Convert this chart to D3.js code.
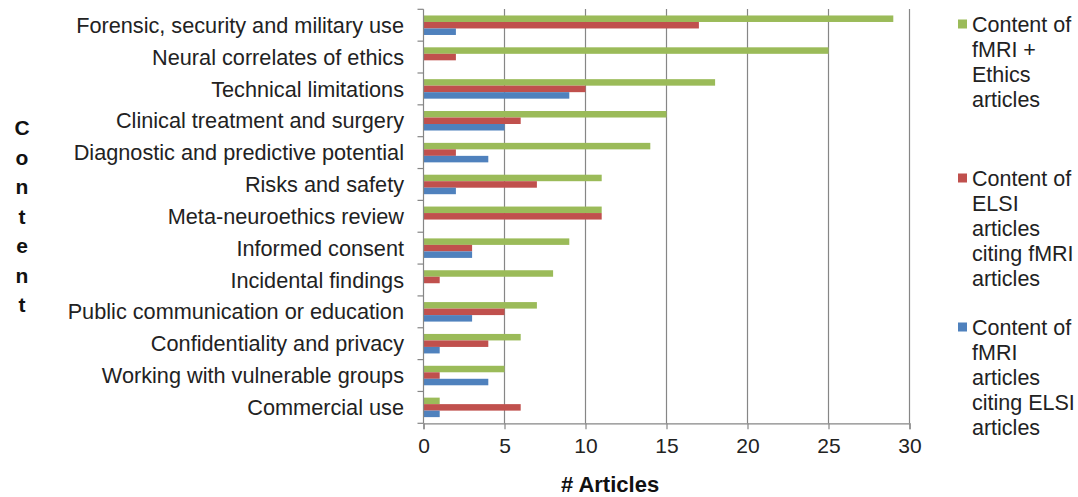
<!DOCTYPE html>
<html>
<head>
    <meta charset="utf-8">
    <title>Content of articles</title>
    <style>
        body {
            margin: 0;
            background: #fff;
            font-family: 'Liberation Sans', Arial, sans-serif;
        }
    </style>
    <script src="https://cdnjs.cloudflare.com/ajax/libs/d3/7.8.5/d3.min.js"></script>
</head>
<body>
    <div id="chart"></div>
    <script>
        const categories = [
            'Forensic, security and military use',
            'Neural correlates of ethics',
            'Technical limitations',
            'Clinical treatment and surgery',
            'Diagnostic and predictive potential',
            'Risks and safety',
            'Meta-neuroethics review',
            'Informed consent',
            'Incidental findings',
            'Public communication or education',
            'Confidentiality and privacy',
            'Working with vulnerable groups',
            'Commercial use'
        ];
        const fmriEthics = [29, 25, 18, 15, 14, 11, 11, 9, 8, 7, 6, 5, 1];
        const elsiCitingFmri = [17, 2, 10, 6, 2, 7, 11, 3, 1, 5, 4, 1, 6];
        const fmriCitingElsi = [2, 0, 9, 5, 4, 2, 0, 3, 0, 3, 1, 4, 1];
        const xTicks = [0, 5, 10, 15, 20, 25, 30];

        const seriesNames = ['green', 'red', 'blue'];
        const seriesValues = [fmriEthics, elsiCitingFmri, fmriCitingElsi];
        const colors = { green: '#9bbb59', red: '#c0504d', blue: '#4f81bd' };
        const legendLines = [
            ['Content of', 'fMRI +', 'Ethics', 'articles'],
            ['Content of', 'ELSI', 'articles', 'citing fMRI', 'articles'],
            ['Content of', 'fMRI', 'articles', 'citing ELSI', 'articles']
        ];
        const legendTops = [24, 178, 327];

        const W = 1078, H = 497;
        const svg = d3.select('#chart').append('svg')
            .attr('width', W).attr('height', H);

        const x = d3.scaleLinear().domain([0, 30]).range([423.5, 909.5]);
        const y = d3.scaleBand().domain(categories).range([9.3, 423.3]);
        const yInner = d3.scaleBand().domain(seriesNames)
            .range([0, y.bandwidth()]).paddingOuter(0.95);

        // gridlines
        svg.append('g').selectAll('line')
            .data(xTicks.slice(1))
            .join('line')
            .attr('x1', d => x(d)).attr('x2', d => x(d))
            .attr('y1', 9).attr('y2', 423.3)
            .attr('stroke', '#868686').attr('stroke-width', 1.2);

        // bars
        const rows = categories.map((c, i) => ({ c, i }));
        const groups = svg.append('g').selectAll('g')
            .data(rows)
            .join('g')
            .attr('transform', d => `translate(0,${y(d.c)})`);

        groups.selectAll('rect')
            .data(d => seriesNames.map((s, k) => ({ s, v: seriesValues[k][d.i] })))
            .join('rect')
            .attr('x', x(0))
            .attr('y', d => yInner(d.s))
            .attr('width', d => x(d.v) - x(0))
            .attr('height', yInner.bandwidth())
            .attr('fill', d => colors[d.s]);

        // bottom axis
        const xAxis = d3.axisBottom(x).tickValues(xTicks).tickSize(6).tickPadding(9);
        const gx = svg.append('g')
            .attr('transform', 'translate(0,423.3)')
            .call(xAxis);
        gx.select('.domain').attr('stroke', '#868686').attr('stroke-width', 1.2);
        gx.selectAll('.tick line').attr('stroke', '#868686').attr('stroke-width', 1.2);
        gx.selectAll('.tick text')
            .attr('fill', '#222')
            .style('font-family', "'Liberation Sans', Arial, sans-serif")
            .style('font-size', '21px');

        // left axis line with ticks at band boundaries
        const leftX = x(0);
        svg.append('line')
            .attr('x1', leftX).attr('x2', leftX)
            .attr('y1', 9.3).attr('y2', 423.3)
            .attr('stroke', '#868686').attr('stroke-width', 1.2);
        svg.append('g').selectAll('line')
            .data(categories.concat(['end']))
            .join('line')
            .attr('x1', leftX - 6).attr('x2', leftX)
            .attr('y1', (d, i) => 9.3 + i * y.step())
            .attr('y2', (d, i) => 9.3 + i * y.step())
            .attr('stroke', '#868686').attr('stroke-width', 1.2);

        // category labels
        svg.append('g').selectAll('text')
            .data(categories)
            .join('text')
            .attr('x', 404)
            .attr('y', d => y(d) + y.bandwidth() / 2)
            .attr('dy', '0.35em')
            .attr('text-anchor', 'end')
            .attr('fill', '#222')
            .style('font-size', '21.7px')
            .text(d => d);

        // vertical axis title
        svg.append('g').selectAll('text')
            .data('Content'.split(''))
            .join('text')
            .attr('x', 22)
            .attr('y', (d, i) => 128 + i * 29.5)
            .attr('dy', '0.35em')
            .attr('text-anchor', 'middle')
            .attr('fill', '#111')
            .style('font-size', '21px')
            .style('font-weight', 'bold')
            .text(d => d);

        // x axis title
        svg.append('text')
            .attr('x', 610).attr('y', 484)
            .attr('dy', '0.35em')
            .attr('text-anchor', 'middle')
            .attr('fill', '#111')
            .style('font-size', '22px')
            .style('font-weight', 'bold')
            .text('# Articles');

        // legend
        const legend = svg.append('g').selectAll('g')
            .data(seriesNames)
            .join('g')
            .attr('transform', (d, i) => `translate(958,${legendTops[i]})`);

        legend.append('rect')
            .attr('x', 0).attr('y', -4.5)
            .attr('width', 9).attr('height', 9)
            .attr('fill', d => colors[d]);

        legend.append('text')
            .attr('fill', '#222')
            .style('font-size', '21.5px')
            .selectAll('tspan')
            .data((d, i) => legendLines[i])
            .join('tspan')
            .attr('x', 14)
            .attr('y', (d, i) => i * 25)
            .attr('dy', '0.35em')
            .text(d => d);
    </script>
</body>
</html>
